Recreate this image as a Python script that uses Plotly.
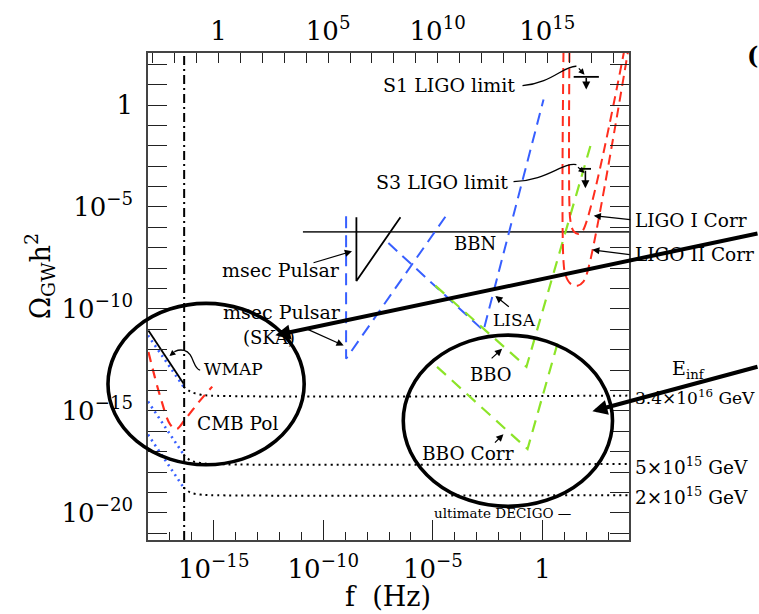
import plotly.graph_objects as go

# All curves are given as log10(f / Hz) and log10(Omega_GW h^2)

# Big-bang nucleosynthesis bound
bbn_logf = [-10.93, 4.0]
bbn_logo = [-6.22, -6.22]

# Present pulsar timing bound
pulsar_logf = [-8.49, -8.49, -6.48]
pulsar_logo = [-5.50, -8.63, -5.50]

# Pulsar timing with SKA
ska_logf = [-8.96, -8.96, -4.43]
ska_logo = [-5.45, -12.44, -5.48]

# LISA
lisa_logf = [-7.03, -2.69, 0.05]
lisa_logo = [-6.77, -11.06, 0.27]

# BBO and correlated BBO
bbo_logf = [-4.89, -0.73, 2.28]
bbo_logo = [-8.86, -12.84, -1.67]
bbocorr_logf = [-4.81, -0.68, 0.73]
bbocorr_logo = [-12.84, -16.87, -11.53]

# LIGO correlation sensitivities
ligo1_logf = [1.23, 1.23, 1.28, 1.42, 1.64, 1.83, 3.72]
ligo1_logo = [2.60, -4.83, -5.70, -6.19, -6.33, -6.19, 2.60]
ligo2_logf = [0.96, 0.96, 1.05, 1.28, 1.60, 1.87, 2.10, 3.90]
ligo2_logo = [2.60, -7.65, -8.33, -8.76, -8.86, -8.66, -7.99, 2.60]

# LIGO science-run upper limits
s1_logf, s1_logo = 2.00, 1.38
s3_logf, s3_logo = 1.96, -3.13

# CMB constraints
wmap_logf = [-17.98, -16.38]
wmap_logo = [-11.06, -13.65]
cmbpol_logf = [-17.98, -17.44, -16.99, -16.71, -16.30, -15.70, -15.07]
cmbpol_logo = [-12.11, -14.30, -15.66, -15.90, -15.41, -14.59, -13.81]

# Present horizon frequency
horizon_logf = -16.35

# Inflationary spectra for three energy scales
infl_labels = ["3.4×10<sup>16</sup> GeV", "5×10<sup>15</sup> GeV", "2×10<sup>15</sup> GeV"]
infl_low_logf = [-18.0, -16.38]
infl_low_logo = [[-11.30, -13.81], [-14.54, -17.13], [-16.16, -18.75]]
infl_high_logf = [-16.38, -16.07, -15.62, -15.16, 4.0]
infl_high_logo = [
    [-13.81, -14.05, -14.20, -14.25, -14.25],
    [-17.13, -17.42, -17.55, -17.60, -17.60],
    [-18.75, -19.00, -19.10, -19.13, -19.13],
]

# Axis ticks
x_major = [-15, -10, -5, 0]
x_major_text = ["10<sup>−15</sup>", "10<sup>−10</sup>", "10<sup>−5</sup>", "1"]
y_major = [-20, -15, -10, -5, 0]
y_major_text = ["10<sup>−20</sup>", "10<sup>−15</sup>", "10<sup>−10</sup>", "10<sup>−5</sup>", "1"]
top_major = [0, 5, 10, 15]
top_major_text = ["1", "10<sup>5</sup>", "10<sup>10</sup>", "10<sup>15</sup>"]
top_offset = 14.78

X_RANGE = [-18.0, 3.95]
Y_RANGE = [-21.33, 2.55]

BLUE = "rgb(55,95,255)"
RED = "rgb(255,45,30)"
GREEN = "rgb(140,228,40)"
SERIF = "DejaVu Serif"

fig = go.Figure()


def line(x, y, color, width=2.0, dash="solid", shape="linear"):
    fig.add_trace(go.Scatter(x=x, y=y, mode="lines", hoverinfo="skip",
                             line=dict(color=color, width=width, dash=dash, shape=shape)))


# inflation spectra: dotted blue below horizon, dotted black above
for lo in infl_low_logo:
    line(infl_low_logf, lo, BLUE, 2.6, "2px,4px")
for lo in infl_high_logo:
    line(infl_high_logf, lo, "black", 2.0, "2px,4px", "spline")

line(bbn_logf, bbn_logo, "#333", 1.6)
line(pulsar_logf, pulsar_logo, "black", 1.8)
line(ska_logf, ska_logo, BLUE, 2.0, "12px,7px")
line(lisa_logf, lisa_logo, BLUE, 2.0, "12px,7px")
line(bbo_logf, bbo_logo, GREEN, 2.2, "12px,8px")
line(bbocorr_logf, bbocorr_logo, GREEN, 2.2, "12px,8px")
line(ligo1_logf, ligo1_logo, RED, 2.0, "10px,6px", "spline")
line(ligo2_logf, ligo2_logo, RED, 2.0, "10px,6px", "spline")
line(wmap_logf, wmap_logo, "black", 1.8)
line(cmbpol_logf, cmbpol_logo, RED, 2.2, "10px,7px", "spline")
line([horizon_logf, horizon_logf], Y_RANGE, "black", 2.0, "9px,4px,2px,4px")

# LIGO limit bars
for lf, lo, size in [(s1_logf, s1_logo, 18), (s3_logf, s3_logo, 8)]:
    fig.add_trace(go.Scatter(x=[lf], y=[lo], mode="markers", hoverinfo="skip",
                             marker=dict(symbol="line-ew", size=size,
                                         line=dict(color="black", width=1.8))))

# invisible trace carrying the top axis
fig.add_trace(go.Scatter(x=[X_RANGE[0] + top_offset, X_RANGE[1] + top_offset],
                         y=[Y_RANGE[0], Y_RANGE[0]], xaxis="x2", mode="lines",
                         line=dict(width=0), hoverinfo="skip", showlegend=False))

ann = []


def text(x, y, s, xanchor="left", xref="x", size=18):
    ann.append(dict(x=x, y=y, xref=xref, yref="y", text=s, showarrow=False,
                    xanchor=xanchor, yanchor="middle",
                    font=dict(family=SERIF, size=size, color="black")))


def arrow(x, y, ax, ay, width=1.2, size=1.2, head=2):
    ann.append(dict(x=x, y=y, xref="x", yref="y", ax=ax, ay=ay, text="",
                    showarrow=True, arrowhead=head, arrowsize=size,
                    arrowwidth=width, arrowcolor="black", standoff=0, startstandoff=0))


text(-1.14, 1.00, "S1 LIGO limit", "right", size=19)
text(-1.46, -3.76, "S3 LIGO limit", "right", size=19)
text(-3.10, -6.77, "BBN", "center", size=18)
text(-9.13, -8.08, "msec Pulsar", "right", size=19)
text(-9.09, -10.17, "msec Pulsar", "right", size=19)
text(-12.50, -11.38, "(SKA)", "center", size=18)
text(-15.53, -12.94, "WMAP", size=17)
text(-15.84, -15.61, "CMB Pol", size=18.5)
text(-2.37, -10.56, "LISA", size=17)
text(-3.38, -13.23, "BBO", size=18)
text(-5.57, -17.11, "BBO Corr", size=18.5)
text(-5.02, -20.02, "ultimate DECIGO —", size=13.5)

right_x = 1.009
text(right_x, -5.64, "LIGO I Corr", xref="paper", size=18.5)
text(right_x, -7.34, "LIGO II Corr", xref="paper", size=18.5)
text(1.124, -12.99, "E<sub>inf</sub>", "center", xref="paper", size=19)
for lab, lo, sz in zip(infl_labels, [-14.30, -17.70, -19.16], [17, 18.5, 18.5]):
    text(right_x, lo, lab, xref="paper", size=sz)

arrow(-8.69, -7.17, -40, 12)
arrow(-9.07, -11.79, -38, -17)
arrow(-2.15, -9.36, 15, 12)
arrow(-1.84, -11.95, -12, 11)
arrow(-1.78, -16.14, -10, 10)
arrow(2.34, -5.43, 38, 4)
arrow(2.27, -7.10, 39, 5)
# limit arrows and connector arrow tips
arrow(s1_logf, s1_logo - 0.62, 0, -13, 1.6, 1.0)
arrow(s3_logf, s3_logo - 0.95, 0, -19, 1.6, 1.0)
arrow(1.92, 1.48, -7, -8, 1.2, 1.0)
arrow(1.92, -3.33, -8, -7, 1.2, 1.0)
arrow(-17.02, -12.31, 6, -5, 1.2, 1.0)

# highlighting arrows
arrow(-12.19, -11.29, 490, -102, 4, 0.75)
arrow(2.28, -15.02, 172, -45, 4, 0.75)

# axis titles and corner mark
ann.append(dict(x=0.4995, y=-0.116, xref="paper", yref="paper", showarrow=False,
                text="f  (Hz)", font=dict(family=SERIF, size=27, color="black"),
                xanchor="center", yanchor="middle"))
ann.append(dict(x=-0.225, y=0.541, xref="paper", yref="paper", showarrow=False,
                text="Ω<sub>GW</sub>h<sup>2</sup>", textangle=-90,
                font=dict(family=SERIF, size=27, color="black"),
                xanchor="center", yanchor="middle"))
ann.append(dict(x=1.2716, y=0.995, xref="paper", yref="paper", showarrow=False,
                text="<b>(</b>", font=dict(family=SERIF, size=24, color="black"),
                xanchor="right", yanchor="middle"))

shapes = [
    # curved connectors
    dict(type="path", xref="x", yref="y",
         path="M -0.91,0.95 C 0.4,1.05 1.0,1.95 1.55,1.90",
         line=dict(color="black", width=1.3)),
    dict(type="path", xref="x", yref="y",
         path="M -1.32,-3.76 C 0.2,-3.72 0.9,-2.80 1.55,-2.92",
         line=dict(color="black", width=1.3)),
    dict(type="path", xref="x", yref="y",
         path="M -15.62,-13.0 C -15.95,-12.95 -15.9,-12.15 -16.35,-12.03 C -16.6,-11.97 -16.7,-12.05 -16.8,-12.1",
         line=dict(color="black", width=1.3)),
    # highlighting ellipses
    dict(type="circle", xref="paper", yref="paper", x0=-0.0832, x1=0.3247,
         y0=0.1545, y1=0.4858, line=dict(color="black", width=3.6)),
    dict(type="circle", xref="paper", yref="paper", x0=0.5307, x1=0.9657,
         y0=0.0691, y1=0.4207, line=dict(color="black", width=3.6)),
]

tickfont = dict(family=SERIF, size=26, color="black")
fig.update_layout(
    width=759, height=614,
    margin=dict(l=148, r=130, t=48, b=74),
    paper_bgcolor="white", plot_bgcolor="white",
    showlegend=False,
    annotations=ann, shapes=shapes,
    xaxis=dict(range=X_RANGE, showgrid=False, zeroline=False,
               showline=True, linecolor="#444", linewidth=1.5, mirror=True,
               ticks="inside", ticklen=20, tickwidth=1.2, tickcolor="#222",
               tickvals=x_major, ticktext=x_major_text, tickfont=tickfont,
               ticklabelstandoff=5,
               minor=dict(ticks="inside", ticklen=8, dtick=1, tick0=0,
                          tickcolor="#222", tickwidth=1.2)),
    xaxis2=dict(range=[X_RANGE[0] + top_offset, X_RANGE[1] + top_offset],
                overlaying="x", side="top", anchor="y",
                showgrid=False, zeroline=False, showline=False,
                ticks="inside", ticklen=10, tickwidth=1.2, tickcolor="#222",
                tickvals=top_major, ticktext=top_major_text, tickfont=tickfont,
                ticklabelstandoff=7,
                minor=dict(ticks="inside", ticklen=10, dtick=1, tick0=0,
                           tickcolor="#222", tickwidth=1.2)),
    yaxis=dict(range=Y_RANGE, showgrid=False, zeroline=False,
               showline=True, linecolor="#444", linewidth=1.5, mirror="allticks",
               ticks="inside", ticklen=19, tickwidth=1.2, tickcolor="#222",
               tickvals=y_major, ticktext=y_major_text, tickfont=tickfont,
               ticklabelstandoff=8,
               minor=dict(ticks="inside", ticklen=10, dtick=1, tick0=0,
                          tickcolor="#222", tickwidth=1.2)),
)

fig.write_html("out.html")
